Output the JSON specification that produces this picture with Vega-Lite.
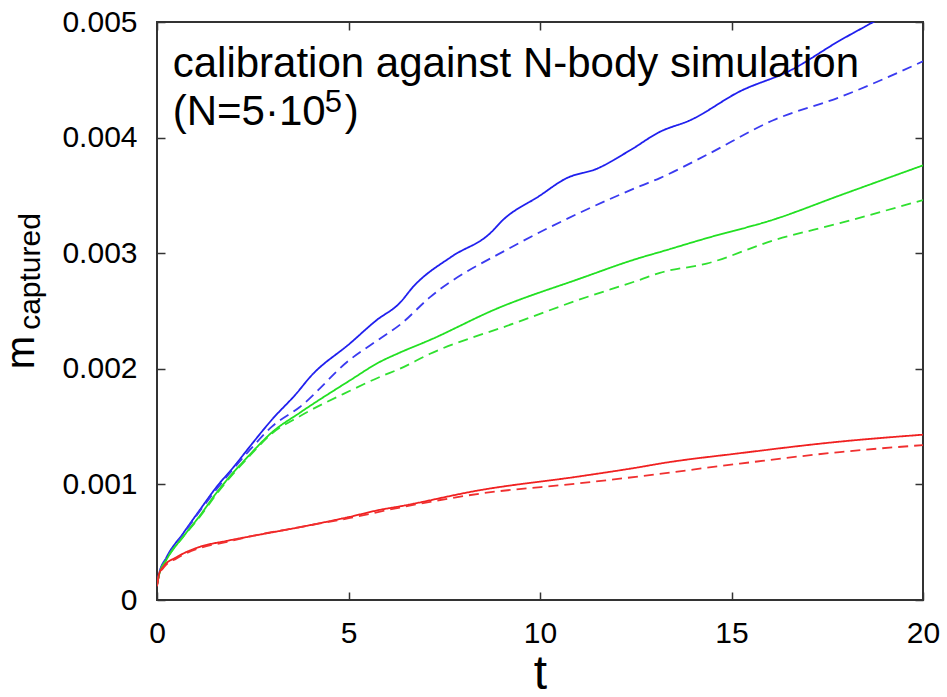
{
  "$schema": "https://vega.github.io/schema/vega-lite/v6.json",
  "width": 766,
  "height": 578,
  "autosize": {"type": "none"},
  "padding": {"left": 157, "top": 22, "right": 24, "bottom": 97},
  "background": "white",
  "config": {
    "font": "Liberation Sans",
    "view": {"stroke": "#333333", "strokeWidth": 2},
    "axis": {
      "domain": false,
      "grid": false,
      "tickColor": "#333333",
      "tickWidth": 1.5,
      "tickSize": -8,
      "labelFlush": false,
      "labelFont": "Liberation Sans",
      "labelFontSize": 30,
      "labelColor": "#000000",
      "titleFont": "Liberation Sans",
      "titleColor": "#000000",
      "titleFontWeight": "normal"
    }
  },
  "datasets": {
    "curves": [
      {"series": "blue solid", "t": 0, "m": 0.00013},
      {"series": "blue solid", "t": 0.05, "m": 0.00022},
      {"series": "blue solid", "t": 0.25, "m": 0.00037},
      {"series": "blue solid", "t": 0.69, "m": 0.00058},
      {"series": "blue solid", "t": 1.12, "m": 0.00078},
      {"series": "blue solid", "t": 1.56, "m": 0.00098},
      {"series": "blue solid", "t": 2.0, "m": 0.00115},
      {"series": "blue solid", "t": 2.43, "m": 0.00133},
      {"series": "blue solid", "t": 3.0, "m": 0.00156},
      {"series": "blue solid", "t": 3.65, "m": 0.00179},
      {"series": "blue solid", "t": 4.0, "m": 0.00193},
      {"series": "blue solid", "t": 5.04, "m": 0.00222},
      {"series": "blue solid", "t": 5.73, "m": 0.00242},
      {"series": "blue solid", "t": 6.34, "m": 0.00257},
      {"series": "blue solid", "t": 6.69, "m": 0.00271},
      {"series": "blue solid", "t": 7.69, "m": 0.00297},
      {"series": "blue solid", "t": 8.69, "m": 0.00317},
      {"series": "blue solid", "t": 9.04, "m": 0.00329},
      {"series": "blue solid", "t": 9.96, "m": 0.00349},
      {"series": "blue solid", "t": 10.7, "m": 0.00365},
      {"series": "blue solid", "t": 11.48, "m": 0.00373},
      {"series": "blue solid", "t": 12.35, "m": 0.00389},
      {"series": "blue solid", "t": 13.13, "m": 0.00405},
      {"series": "blue solid", "t": 13.92, "m": 0.00415},
      {"series": "blue solid", "t": 15.22, "m": 0.0044},
      {"series": "blue solid", "t": 16.53, "m": 0.00458},
      {"series": "blue solid", "t": 17.83, "m": 0.00484},
      {"series": "blue solid", "t": 18.7, "m": 0.005},
      {"series": "blue solid", "t": 20, "m": 0.00525},
      {"series": "blue dashed", "t": 0, "m": 0.00013},
      {"series": "blue dashed", "t": 0.05, "m": 0.00022},
      {"series": "blue dashed", "t": 0.25, "m": 0.00036},
      {"series": "blue dashed", "t": 0.69, "m": 0.00057},
      {"series": "blue dashed", "t": 1.12, "m": 0.00077},
      {"series": "blue dashed", "t": 1.56, "m": 0.00096},
      {"series": "blue dashed", "t": 2.43, "m": 0.0013},
      {"series": "blue dashed", "t": 3.0, "m": 0.0015},
      {"series": "blue dashed", "t": 3.73, "m": 0.00167},
      {"series": "blue dashed", "t": 5.04, "m": 0.00208},
      {"series": "blue dashed", "t": 5.82, "m": 0.00226},
      {"series": "blue dashed", "t": 6.34, "m": 0.00238},
      {"series": "blue dashed", "t": 7.13, "m": 0.00262},
      {"series": "blue dashed", "t": 9.3, "m": 0.00306},
      {"series": "blue dashed", "t": 11.04, "m": 0.00335},
      {"series": "blue dashed", "t": 12.61, "m": 0.00358},
      {"series": "blue dashed", "t": 13.13, "m": 0.00365},
      {"series": "blue dashed", "t": 14.35, "m": 0.00385},
      {"series": "blue dashed", "t": 16.09, "m": 0.00415},
      {"series": "blue dashed", "t": 17.83, "m": 0.00435},
      {"series": "blue dashed", "t": 20, "m": 0.00466},
      {"series": "green solid", "t": 0, "m": 0.00013},
      {"series": "green solid", "t": 0.05, "m": 0.00021},
      {"series": "green solid", "t": 0.25, "m": 0.00035},
      {"series": "green solid", "t": 0.69, "m": 0.00055},
      {"series": "green solid", "t": 1.12, "m": 0.00073},
      {"series": "green solid", "t": 1.56, "m": 0.00093},
      {"series": "green solid", "t": 2.43, "m": 0.00126},
      {"series": "green solid", "t": 3.0, "m": 0.00145},
      {"series": "green solid", "t": 3.73, "m": 0.00162},
      {"series": "green solid", "t": 5.04, "m": 0.0019},
      {"series": "green solid", "t": 5.82, "m": 0.00206},
      {"series": "green solid", "t": 6.34, "m": 0.00214},
      {"series": "green solid", "t": 7.13, "m": 0.00225},
      {"series": "green solid", "t": 8.87, "m": 0.00252},
      {"series": "green solid", "t": 11.04, "m": 0.00278},
      {"series": "green solid", "t": 12.61, "m": 0.00296},
      {"series": "green solid", "t": 13.13, "m": 0.00301},
      {"series": "green solid", "t": 14.35, "m": 0.00313},
      {"series": "green solid", "t": 16.09, "m": 0.00329},
      {"series": "green solid", "t": 17.83, "m": 0.0035},
      {"series": "green solid", "t": 20, "m": 0.00376},
      {"series": "green dashed", "t": 0, "m": 0.00013},
      {"series": "green dashed", "t": 0.05, "m": 0.00021},
      {"series": "green dashed", "t": 0.25, "m": 0.00035},
      {"series": "green dashed", "t": 0.69, "m": 0.00055},
      {"series": "green dashed", "t": 1.12, "m": 0.00072},
      {"series": "green dashed", "t": 1.56, "m": 0.00092},
      {"series": "green dashed", "t": 2.43, "m": 0.00125},
      {"series": "green dashed", "t": 3.0, "m": 0.00144},
      {"series": "green dashed", "t": 3.73, "m": 0.00159},
      {"series": "green dashed", "t": 5.04, "m": 0.00181},
      {"series": "green dashed", "t": 5.82, "m": 0.00193},
      {"series": "green dashed", "t": 6.34, "m": 0.002},
      {"series": "green dashed", "t": 7.13, "m": 0.00213},
      {"series": "green dashed", "t": 9.3, "m": 0.00239},
      {"series": "green dashed", "t": 11.04, "m": 0.0026},
      {"series": "green dashed", "t": 12.61, "m": 0.00277},
      {"series": "green dashed", "t": 13.13, "m": 0.00283},
      {"series": "green dashed", "t": 14.35, "m": 0.00291},
      {"series": "green dashed", "t": 16.09, "m": 0.00311},
      {"series": "green dashed", "t": 17.83, "m": 0.00326},
      {"series": "green dashed", "t": 20, "m": 0.00346},
      {"series": "red solid", "t": 0, "m": 0.00012},
      {"series": "red solid", "t": 0.05, "m": 0.00022},
      {"series": "red solid", "t": 0.17, "m": 0.00029},
      {"series": "red solid", "t": 0.51, "m": 0.00037},
      {"series": "red solid", "t": 1.12, "m": 0.00046},
      {"series": "red solid", "t": 1.8, "m": 0.00051},
      {"series": "red solid", "t": 2.43, "m": 0.00055},
      {"series": "red solid", "t": 3.73, "m": 0.00063},
      {"series": "red solid", "t": 5.04, "m": 0.00072},
      {"series": "red solid", "t": 5.82, "m": 0.00078},
      {"series": "red solid", "t": 6.34, "m": 0.00081},
      {"series": "red solid", "t": 8.43, "m": 0.00095},
      {"series": "red solid", "t": 11.04, "m": 0.00107},
      {"series": "red solid", "t": 12.61, "m": 0.00115},
      {"series": "red solid", "t": 13.13, "m": 0.00118},
      {"series": "red solid", "t": 15.22, "m": 0.00127},
      {"series": "red solid", "t": 17.83, "m": 0.00137},
      {"series": "red solid", "t": 20, "m": 0.00143},
      {"series": "red dashed", "t": 0, "m": 0.00012},
      {"series": "red dashed", "t": 0.05, "m": 0.00021},
      {"series": "red dashed", "t": 0.17, "m": 0.00028},
      {"series": "red dashed", "t": 0.51, "m": 0.00036},
      {"series": "red dashed", "t": 1.12, "m": 0.00045},
      {"series": "red dashed", "t": 1.8, "m": 0.0005},
      {"series": "red dashed", "t": 2.43, "m": 0.00055},
      {"series": "red dashed", "t": 3.73, "m": 0.00063},
      {"series": "red dashed", "t": 5.04, "m": 0.00071},
      {"series": "red dashed", "t": 6.34, "m": 0.0008},
      {"series": "red dashed", "t": 8.43, "m": 0.00092},
      {"series": "red dashed", "t": 11.04, "m": 0.00101},
      {"series": "red dashed", "t": 12.61, "m": 0.00107},
      {"series": "red dashed", "t": 15.22, "m": 0.00118},
      {"series": "red dashed", "t": 17.83, "m": 0.00128},
      {"series": "red dashed", "t": 20, "m": 0.00134}
    ],
    "annotations": [
      {"key": "line1", "t": 0.41, "m": 0.004527, "label": "calibration against N-body simulation"},
      {"key": "line2", "t": 0.41, "m": 0.004109, "label": "(N=5·10"},
      {"key": "sup", "t": 4.38, "m": 0.004224, "label": "5"},
      {"key": "close", "t": 4.9, "m": 0.004109, "label": ")"},
      {"key": "ytitle", "t": -3.05, "m": 0.002842, "label": "captured"}
    ]
  },
  "layer": [
    {
      "data": {"name": "curves"},
      "mark": {"type": "line", "clip": true, "strokeWidth": 1.8, "interpolate": "monotone"},
      "encoding": {
        "x": {
          "field": "t", "type": "quantitative",
          "scale": {"domain": [0, 20], "nice": false, "zero": false},
          "axis": {
            "orient": "bottom", "values": [0, 5, 10, 15, 20], "labelPadding": 26,
            "title": "t", "titleFontSize": 48, "titleAnchor": "middle", "titlePadding": 2
          }
        },
        "y": {
          "field": "m", "type": "quantitative",
          "scale": {"domain": [0, 0.005], "nice": false, "zero": false},
          "axis": {
            "orient": "left", "values": [0, 0.001, 0.002, 0.003, 0.004, 0.005],
            "labelExpr": "datum.value == 0 ? '0' : format(datum.value, '.3f')",
            "labelPadding": 28,
            "title": "m", "titleFontSize": 40, "titleAngle": 270,
            "titleAlign": "center", "titleBaseline": "alphabetic",
            "titleX": -124, "titleY": 330
          }
        },
        "detail": {"field": "series"},
        "color": {
          "field": "series", "type": "nominal", "legend": null,
          "scale": {
            "domain": ["blue solid", "blue dashed", "green solid", "green dashed", "red solid", "red dashed"],
            "range": ["#1f1fee", "#3a3af0", "#22e022", "#30e030", "#f02020", "#f03030"]
          }
        },
        "strokeDash": {
          "field": "series", "type": "nominal", "legend": null,
          "scale": {
            "domain": ["blue solid", "blue dashed", "green solid", "green dashed", "red solid", "red dashed"],
            "range": [[1, 0], [10, 6], [1, 0], [10, 6], [1, 0], [10, 6]]
          }
        }
      }
    },
    {
      "data": {"name": "curves"},
      "mark": {"type": "line", "opacity": 0},
      "encoding": {
        "x": {
          "field": "t", "type": "quantitative",
          "scale": {"domain": [0, 20], "nice": false, "zero": false},
          "axis": {"orient": "top", "values": [0, 5, 10, 15, 20], "labels": false, "title": null}
        },
        "y": {
          "field": "m", "type": "quantitative",
          "scale": {"domain": [0, 0.005], "nice": false, "zero": false},
          "axis": {"orient": "right", "values": [0, 0.001, 0.002, 0.003, 0.004, 0.005], "labels": false, "title": null}
        },
        "detail": {"field": "series"}
      }
    },
    {
      "data": {"name": "annotations"},
      "transform": [{"filter": "datum.key == 'line1' || datum.key == 'line2' || datum.key == 'close'"}],
      "mark": {"type": "text", "align": "left", "baseline": "alphabetic", "fontSize": 42, "font": "Liberation Sans", "color": "#000000"},
      "encoding": {
        "x": {"field": "t", "type": "quantitative", "axis": null},
        "y": {"field": "m", "type": "quantitative", "axis": null},
        "text": {"field": "label"}
      }
    },
    {
      "data": {"name": "annotations"},
      "transform": [{"filter": "datum.key == 'sup'"}],
      "mark": {"type": "text", "align": "left", "baseline": "alphabetic", "fontSize": 31, "font": "Liberation Sans", "color": "#000000"},
      "encoding": {
        "x": {"field": "t", "type": "quantitative", "axis": null},
        "y": {"field": "m", "type": "quantitative", "axis": null},
        "text": {"field": "label"}
      }
    },
    {
      "data": {"name": "annotations"},
      "transform": [{"filter": "datum.key == 'ytitle'"}],
      "mark": {"type": "text", "align": "center", "baseline": "alphabetic", "angle": 270, "fontSize": 30, "font": "Liberation Sans", "color": "#000000"},
      "encoding": {
        "x": {"field": "t", "type": "quantitative", "axis": null},
        "y": {"field": "m", "type": "quantitative", "axis": null},
        "text": {"field": "label"}
      }
    }
  ],
  "resolve": {"axis": {"x": "independent", "y": "independent"}}
}
